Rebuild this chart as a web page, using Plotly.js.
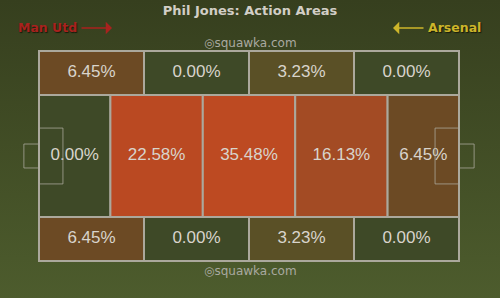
<!DOCTYPE html>
<html>
<head>
<meta charset="utf-8">
<script src="https://cdn.plot.ly/plotly-3.0.1.min.js"></script>
<style>
  html, body { margin: 0; padding: 0; }
  body { width: 500px; height: 298px; background: linear-gradient(#363f1e, #4d5c2d); overflow: hidden; }
  #chart { width: 500px; height: 298px; }
</style>
</head>
<body>
<div id="chart"></div>
<script>
// ---- data ----
const chartTitle = "Phil Jones: Action Areas";
const teamLeft = "Man Utd";
const teamRight = "Arsenal";
const watermark = "squawka.com";
const topValues = [6.45, 0.00, 3.23, 0.00];
const midValues = [0.00, 22.58, 35.48, 16.13, 6.45];
const bottomValues = [6.45, 0.00, 3.23, 0.00];
// zone edges along the pitch (0-100 length, 0-100 width)
const wideEdges = [0, 25, 50, 75, 100];
const midEdges = [0, 17, 39, 61, 83, 100];
const rowEdges = [0, 21, 79, 100];

// ---- colour scale (value -> fill) ----
const colorStops = [
  [0, [62, 73, 39]],
  [3.23, [90, 80, 38]],
  [6.45, [108, 74, 36]],
  [16.13, [163, 75, 36]],
  [22.58, [186, 73, 34]],
  [35.48, [189, 74, 34]]
];
function colorFor(v) {
  for (let i = 0; i < colorStops.length - 1; i++) {
    const [a, ca] = colorStops[i], [b, cb] = colorStops[i + 1];
    if (v <= b) {
      const t = (v - a) / (b - a);
      const c = ca.map((x, k) => Math.round(x + (cb[k] - x) * t));
      return 'rgb(' + c.join(',') + ')';
    }
  }
  return 'rgb(' + colorStops[colorStops.length - 1][1].join(',') + ')';
}

// ---- build cells ----
const rows = [
  { values: topValues, edges: wideEdges, y0: rowEdges[0], y1: rowEdges[1] },
  { values: midValues, edges: midEdges, y0: rowEdges[1], y1: rowEdges[2] },
  { values: bottomValues, edges: wideEdges, y0: rowEdges[2], y1: rowEdges[3] }
];
const shapes = [];
const tx = [], ty = [], tt = [];
const lineCol = '#aba89c';
rows.forEach(r => {
  r.values.forEach((v, i) => {
    shapes.push({
      type: 'rect', xref: 'x', yref: 'y', layer: 'below',
      x0: r.edges[i], x1: r.edges[i + 1], y0: r.y0, y1: r.y1,
      fillcolor: colorFor(v), line: { color: lineCol, width: 2 }
    });
    tx.push((r.edges[i] + r.edges[i + 1]) / 2);
    ty.push((r.y0 + r.y1) / 2);
    tt.push(v.toFixed(2) + '%');
  });
});
// pitch markings (penalty boxes and goals)
const markCol = 'rgba(175,172,160,0.75)';
[[0, 5.7, -3.6], [100, 94.3, 103.6]].forEach(([edge, box, goal]) => {
  shapes.push({ type: 'rect', xref: 'x', yref: 'y', x0: edge, x1: box, y0: 36.7, y1: 63.3,
    line: { color: markCol, width: 1 } });
  shapes.push({ type: 'rect', xref: 'x', yref: 'y', x0: goal, x1: edge, y0: 44.3, y1: 55.7,
    line: { color: markCol, width: 1 } });
});

const traces = [{
  type: 'scatter', mode: 'text', x: tx, y: ty, text: tt,
  textfont: { family: 'Liberation Sans, Arial, sans-serif', size: 17, color: '#d8d4cc' },
  hoverinfo: 'skip', cliponaxis: false
}];

const PX = 4.2, PY = 2.1, LEFT = 39, TOP = 51, W = 500, H = 298;
function note(px, py, text, font, extra) {
  return Object.assign({ xref: 'paper', yref: 'paper', x: px / W, y: 1 - py / H, text: text,
    showarrow: false, xanchor: 'center', yanchor: 'middle', font: font }, extra || {});
}
const teamFont = (c) => ({ family: 'DejaVu Sans, sans-serif', size: 12.5, color: c,
  shadow: '1px 1px 1px #151a0a' });
const wmFont = { family: 'DejaVu Sans, sans-serif', size: 12, color: '#a9a9a0' };
const layout = {
  width: W, height: H,
  margin: { l: 0, r: 0, t: 0, b: 0 },
  paper_bgcolor: 'rgba(0,0,0,0)', plot_bgcolor: 'rgba(0,0,0,0)',
  showlegend: false,
  xaxis: { range: [-LEFT / PX, (W - LEFT) / PX], visible: false, fixedrange: true },
  yaxis: { range: [(H - TOP) / PY, -TOP / PY], visible: false, fixedrange: true },
  title: { text: '<b>' + chartTitle + '</b>', font: { family: 'DejaVu Sans, sans-serif', size: 13, color: '#d2cec6' },
    x: 0.5, xanchor: 'center', y: 1 - 10 / H, yanchor: 'middle' },
  shapes: shapes,
  annotations: [
    note(47, 28, '<b>' + teamLeft + '</b>', teamFont('#a8221e')),
    { xref: 'paper', yref: 'paper', x: 112 / W, y: 1 - 28 / H, ax: -32, ay: 0, text: '', showarrow: true,
      arrowhead: 1, arrowsize: 1.3, arrowwidth: 1.6, arrowcolor: '#a8221e' },
    note(454, 28, '<b>' + teamRight + '</b>', teamFont('#cdb52a')),
    { xref: 'paper', yref: 'paper', x: 393 / W, y: 1 - 28 / H, ax: 32, ay: 0, text: '', showarrow: true,
      arrowhead: 1, arrowsize: 1.3, arrowwidth: 1.6, arrowcolor: '#cdb52a' },
    note(250, 43, '◎' + watermark, wmFont),
    note(250, 271, '◎' + watermark, wmFont)
  ]
};

Plotly.newPlot('chart', traces, layout, { staticPlot: true, displayModeBar: false });
</script>
</body>
</html>
